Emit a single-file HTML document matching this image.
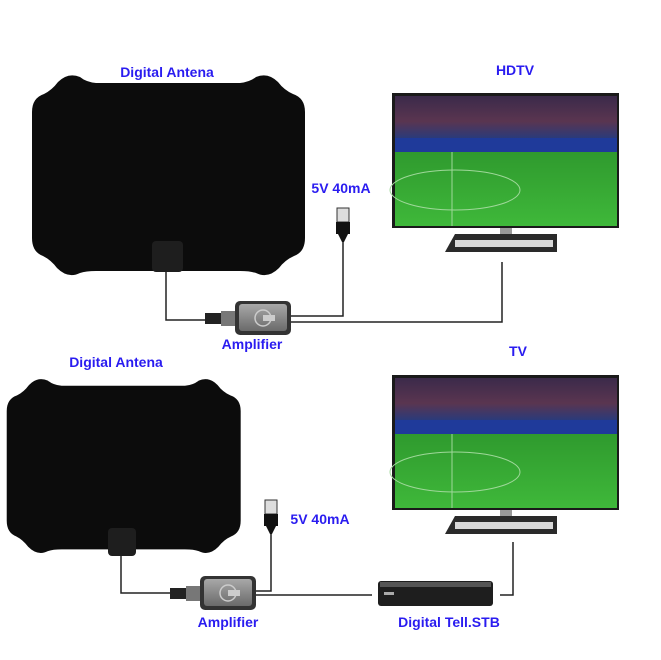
<!DOCTYPE html>
<html><head><meta charset="utf-8"><style>
html,body{margin:0;padding:0;background:#fff;}
svg{display:block;}
text{font-family:"Liberation Sans",sans-serif;font-weight:bold;fill:#2a1cf0;}
</style></head><body>
<svg width="661" height="660" viewBox="0 0 661 660" xmlns="http://www.w3.org/2000/svg">
<defs>
<linearGradient id="crowd" x1="0" y1="0" x2="0" y2="1">
<stop offset="0" stop-color="#3b2a4a"/><stop offset="0.6" stop-color="#5a3550"/><stop offset="1" stop-color="#2b3a7a"/>
</linearGradient>
<linearGradient id="field" x1="0" y1="0" x2="0" y2="1">
<stop offset="0" stop-color="#2f9a2e"/><stop offset="1" stop-color="#3fb83a"/>
</linearGradient>
<linearGradient id="ampg" x1="0" y1="0" x2="0" y2="1">
<stop offset="0" stop-color="#a8a8a8"/><stop offset="1" stop-color="#6a6a6a"/>
</linearGradient>
<path id="ant" d="M32 112 Q32 98 44 94 Q52 90 58 82 Q68 72 80 77 Q86 82 96 83 L240 83 Q250 82 256 77 Q268 72 278 82 Q284 90 293 94 Q305 98 305 112 L305 238 Q305 252 294 256 Q285 260 279 268 Q268 279 256 273 Q250 271 240 271 L96 271 Q86 271 80 273 Q68 279 57 268 Q51 260 43 256 Q32 252 32 238 Z" fill="#0c0c0c"/>
<g id="tv">
<rect x="392" y="93" width="227" height="135" fill="#1a1a1a"/>
<rect x="395" y="96" width="222" height="42" fill="url(#crowd)"/>
<rect x="395" y="138" width="222" height="14" fill="#1f3a9a"/>
<rect x="395" y="152" width="222" height="74" fill="url(#field)"/>
<ellipse cx="455" cy="190" rx="65" ry="20" fill="none" stroke="#9fd89a" stroke-width="1"/>
<line x1="452" y1="152" x2="452" y2="226" stroke="#9fd89a" stroke-width="1"/>
<rect x="500" y="228" width="12" height="8" fill="#9a9a9a"/>
<polygon points="455,234 557,234 557,252 445,252" fill="#2a2a2a"/>
<rect x="455" y="240" width="98" height="7" fill="#d8d8d8"/>
</g>
<g id="amp">
<rect x="205" y="313" width="16" height="11" fill="#222"/>
<rect x="221" y="311" width="14" height="15" fill="#777"/>
<rect x="235" y="301" width="56" height="34" rx="5" fill="#333"/>
<rect x="239" y="304" width="48" height="27" rx="3" fill="url(#ampg)"/>
<circle cx="263" cy="318" r="8" fill="none" stroke="#ccc" stroke-width="1.5"/>
<rect x="263" y="315" width="12" height="6" fill="#ccc"/>
</g>
<g id="usb">
<rect x="337" y="208" width="12" height="14" fill="#ddd" stroke="#333"/>
<rect x="336" y="222" width="14" height="12" fill="#111"/>
<polygon points="338,234 348,234 344,242 342,242" fill="#111"/>
</g>
</defs>

<use href="#ant"/>
<rect x="152" y="241" width="31" height="31" rx="4" fill="#1e1e1e"/>
<text x="167" y="77" font-size="14" text-anchor="middle">Digital Antena</text>
<text x="515" y="75" font-size="14" text-anchor="middle">HDTV</text>
<text x="341" y="193" font-size="14" text-anchor="middle">5V 40mA</text>
<use href="#tv"/>
<use href="#usb"/>
<polyline points="166,272 166,320 205,320" fill="none" stroke="#222" stroke-width="1.5"/>
<polyline points="291,316 343,316 343,242" fill="none" stroke="#222" stroke-width="1.5"/>
<polyline points="291,322 502,322 502,262" fill="none" stroke="#222" stroke-width="1.5"/>
<use href="#amp"/>
<text x="252" y="349" font-size="14" text-anchor="middle">Amplifier</text>

<use href="#ant" transform="translate(-20.7,313.6) scale(0.857,0.87)"/>
<rect x="108" y="528" width="28" height="28" rx="4" fill="#1e1e1e"/>
<text x="116" y="367" font-size="14" text-anchor="middle">Digital Antena</text>
<text x="518" y="356" font-size="14" text-anchor="middle">TV</text>
<text x="320" y="524" font-size="14" text-anchor="middle">5V 40mA</text>
<use href="#tv" transform="translate(0,282)"/>
<use href="#usb" transform="translate(-72,292)"/>
<polyline points="121,556 121,593 170,593" fill="none" stroke="#222" stroke-width="1.5"/>
<polyline points="254,591 271,591 271,534" fill="none" stroke="#222" stroke-width="1.5"/>
<line x1="254" y1="595" x2="372" y2="595" stroke="#222" stroke-width="1.5"/>
<polyline points="500,595 513,595 513,542" fill="none" stroke="#222" stroke-width="1.5"/>
<use href="#amp" transform="translate(-35,275)"/>
<rect x="378" y="581" width="115" height="25" rx="3" fill="#1e1e1e"/>
<rect x="380" y="582" width="111" height="5" fill="#555"/>
<rect x="384" y="592" width="10" height="3" fill="#aaa"/>
<text x="228" y="627" font-size="14" text-anchor="middle">Amplifier</text>
<text x="449" y="627" font-size="14" text-anchor="middle">Digital Tell.STB</text>
</svg>
</body></html>
